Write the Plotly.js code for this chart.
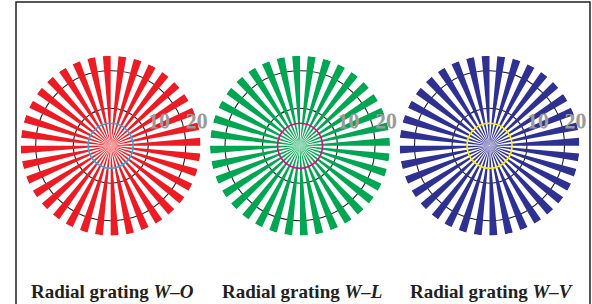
<!DOCTYPE html>
<html>
<head>
<meta charset="utf-8">
<script src="https://cdn.plot.ly/plotly-3.0.1.min.js"></script>
<style>html,body{margin:0;padding:0;background:#fff;}#chart{width:592px;height:304px;}</style>
</head>
<body>
<div id="chart"></div>
<script>
// ---- data ----
var spokeTheta = [2.5, 12.5, 22.5, 32.5, 42.5, 52.5, 62.5, 72.5, 82.5, 92.5, 102.5, 112.5,
                  122.5, 132.5, 142.5, 152.5, 162.5, 172.5, 182.5, 192.5, 202.5, 212.5, 222.5, 232.5,
                  242.5, 252.5, 262.5, 272.5, 282.5, 292.5, 302.5, 312.5, 322.5, 332.5, 342.5, 352.5];
var spokeR = [24, 24, 24, 24, 24, 24, 24, 24, 24, 24, 24, 24,
              24, 24, 24, 24, 24, 24, 24, 24, 24, 24, 24, 24,
              24, 24, 24, 24, 24, 24, 24, 24, 24, 24, 24, 24];
var spokeWidth = 5;
var ringR = [6];
var radialTicks = [10, 20];
var radialTickText = ['10', '20'];
var gratingNames = ['W–O', 'W–L', 'W–V'];
var spokeColors = ['#ed1c24', '#00a651', '#2e3192'];
var ringColors = ['#29abe2', '#ec008c', '#fff200'];
var radialMax = 24;

// ---- layout helpers ----
var W = 592, H = 304;
var centersX = [110.7, 300, 489.5];
var centerY = 145.7;
var radiusPx = 90;

var traces = [];
var layout = {
  width: W, height: H,
  margin: {l: 0, r: 0, t: 0, b: 0},
  paper_bgcolor: '#ffffff',
  showlegend: false,
  annotations: [],
  shapes: [{
    type: 'rect', xref: 'paper', yref: 'paper',
    x0: 16 / W, x1: 590 / W, y0: -0.2, y1: (H - 2) / H,
    line: {color: '#231f20', width: 1.5}, fillcolor: 'rgba(0,0,0,0)', layer: 'below'
  }]
};

for (var i = 0; i < 3; i++) {
  var pid = i === 0 ? 'polar' : 'polar' + (i + 1);
  traces.push({
    type: 'barpolar', subplot: pid,
    theta: spokeTheta, r: spokeR, width: spokeWidth,
    marker: {color: spokeColors[i], line: {width: 0}},
    hoverinfo: 'skip'
  });
  traces.push({
    type: 'barpolar', subplot: pid,
    theta: [180], r: ringR, width: 360,
    marker: {color: 'rgba(0,0,0,0)', line: {color: ringColors[i], width: 1.6}},
    hoverinfo: 'skip'
  });
  var cx = centersX[i];
  layout[pid] = {
    domain: {
      x: [(cx - radiusPx) / W, (cx + radiusPx) / W],
      y: [(H - centerY - radiusPx) / H, (H - centerY + radiusPx) / H]
    },
    bgcolor: 'rgba(0,0,0,0)',
    radialaxis: {
      range: [0, radialMax],
      tickvals: radialTicks, ticktext: radialTickText,
      showline: false, ticks: 'outside', ticklen: 8, tickcolor: 'rgba(0,0,0,0)',
      tickangle: -0.5,
      showgrid: true, gridcolor: '#231f20', gridwidth: 1.1,
      angle: 0, side: 'counterclockwise',
      tickfont: {family: 'Liberation Serif', size: 22, color: '#9a9a9a', weight: 'bold'},
      layer: 'above traces'
    },
    angularaxis: {
      showline: false, showgrid: false, showticklabels: false, ticks: ''
    }
  };
  layout.annotations.push({
    xref: 'paper', yref: 'paper',
    x: (cx + 1.5) / W, y: (H - 291) / H,
    xanchor: 'center', yanchor: 'middle', showarrow: false,
    text: '<b>Radial grating <i>' + gratingNames[i] + '</i></b>',
    font: {family: 'Liberation Serif', size: 19, color: '#231f20'}
  });
}

Plotly.newPlot('chart', traces, layout, {displayModeBar: false, staticPlot: true});
</script>
</body>
</html>
